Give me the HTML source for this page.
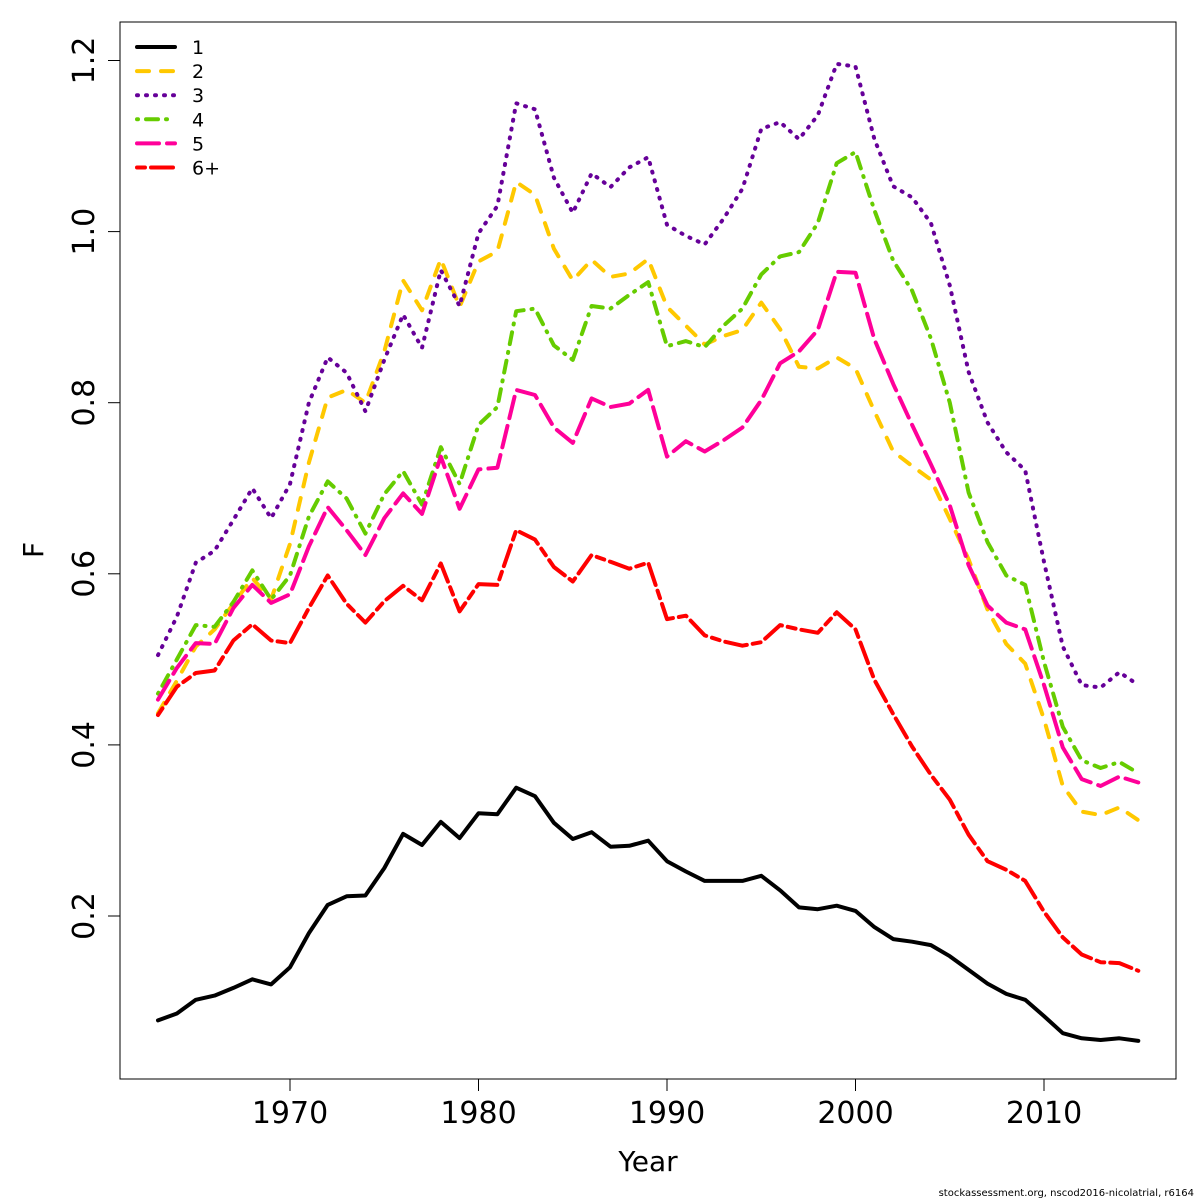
<!DOCTYPE html>
<html><head><meta charset="utf-8"><style>
html,body{margin:0;padding:0;background:#fff}
svg{display:block;font-family:"DejaVu Sans","Liberation Sans",sans-serif}
</style></head><body>
<svg id="chart" width="1200" height="1200" viewBox="0 0 1200 1200" xmlns="http://www.w3.org/2000/svg">
<rect x="0" y="0" width="1200" height="1200" fill="#fff"/>
<rect x="120" y="22" width="1056" height="1057" fill="none" stroke="#000" stroke-width="1"/>
<g id="marks"></g>
<g id="axes"></g>
<text x="648" y="1171" font-size="28" text-anchor="middle">Year</text>
<text x="0" y="0" font-size="28" text-anchor="middle" transform="translate(43,550) rotate(-90)">F</text>
<text x="1194" y="1196" font-size="10" text-anchor="end">stockassessment.org, nscod2016-nicolatrial, r6164</text>
<g id="legend"></g>
</svg>
<script>
const years = [];
for (let y = 1963; y <= 2015; y++) years.push(y);
const xTicks = [1970, 1980, 1990, 2000, 2010];
const yTicks = [0.2, 0.4, 0.6, 0.8, 1.0, 1.2];
const yTickLabels = ["0.2", "0.4", "0.6", "0.8", "1.0", "1.2"];
const seriesNames = ["1", "2", "3", "4", "5", "6+"];
const age1 = [0.078,0.086,0.102,0.107,0.116,0.126,0.12,0.14,0.18,0.213,0.223,0.224,0.256,0.296,0.283,0.31,0.291,0.32,0.319,0.35,0.34,0.309,0.29,0.298,0.281,0.282,0.288,0.264,0.252,0.241,0.241,0.241,0.247,0.23,0.21,0.208,0.212,0.206,0.187,0.173,0.17,0.166,0.153,0.137,0.121,0.109,0.102,0.083,0.063,0.057,0.055,0.057,0.054];
const age2 = [0.437,0.475,0.515,0.535,0.565,0.595,0.57,0.635,0.73,0.806,0.815,0.8,0.86,0.943,0.908,0.968,0.912,0.965,0.977,1.058,1.043,0.98,0.943,0.967,0.947,0.951,0.968,0.912,0.89,0.868,0.878,0.885,0.917,0.886,0.842,0.84,0.853,0.84,0.79,0.743,0.726,0.71,0.664,0.617,0.558,0.518,0.495,0.43,0.352,0.322,0.318,0.327,0.312];
const age3 = [0.505,0.55,0.613,0.627,0.663,0.7,0.665,0.705,0.8,0.853,0.835,0.79,0.85,0.903,0.864,0.955,0.913,0.998,1.03,1.15,1.143,1.063,1.022,1.068,1.052,1.075,1.087,1.008,0.995,0.985,1.015,1.05,1.12,1.128,1.108,1.136,1.196,1.193,1.108,1.053,1.04,1.01,0.937,0.836,0.777,0.742,0.721,0.614,0.515,0.47,0.467,0.485,0.47];
const age4 = [0.46,0.5,0.54,0.538,0.567,0.604,0.57,0.598,0.667,0.708,0.688,0.647,0.693,0.72,0.681,0.748,0.705,0.774,0.795,0.907,0.91,0.867,0.85,0.913,0.91,0.926,0.941,0.866,0.872,0.865,0.89,0.91,0.95,0.971,0.976,1.01,1.08,1.093,1.025,0.966,0.931,0.875,0.8,0.695,0.637,0.598,0.587,0.497,0.421,0.382,0.373,0.38,0.367];
const age5 = [0.453,0.49,0.519,0.518,0.56,0.587,0.566,0.576,0.632,0.678,0.651,0.622,0.665,0.694,0.67,0.737,0.676,0.722,0.724,0.815,0.809,0.771,0.753,0.805,0.795,0.799,0.815,0.737,0.755,0.743,0.756,0.771,0.803,0.846,0.86,0.885,0.953,0.952,0.874,0.822,0.774,0.728,0.68,0.61,0.563,0.543,0.535,0.47,0.397,0.36,0.352,0.363,0.356];
const age6 = [0.435,0.468,0.484,0.487,0.522,0.541,0.522,0.519,0.56,0.598,0.565,0.543,0.568,0.586,0.569,0.612,0.556,0.588,0.587,0.651,0.64,0.608,0.591,0.622,0.614,0.606,0.613,0.547,0.551,0.528,0.521,0.516,0.52,0.54,0.535,0.531,0.555,0.535,0.476,0.436,0.398,0.365,0.336,0.295,0.264,0.254,0.241,0.205,0.175,0.155,0.146,0.145,0.136];

const seriesData = [age1, age2, age3, age4, age5, age6];
const colors = ["#000000", "#FFC800", "#660099", "#66CC00", "#FF0099", "#FF0000"];
const dashes = ["", "12 12", "1 8", "1 8 12 8", "22 8", "8 6 22 6"];
const slugs = ["age-1", "age-2", "age-3", "age-4", "age-5", "age-6plus"];

function xScale(yr) { return 290 + (yr - 1970) * 18.85; }
function yScale(v) { return 916 - (v - 0.2) * 855.5; }

const NS = "http://www.w3.org/2000/svg";
const marks = document.getElementById("marks");
const axes = document.getElementById("axes");
const legend = document.getElementById("legend");

seriesData.forEach((vals, i) => {
  const p = document.createElementNS(NS, "polyline");
  p.setAttribute("points", vals.map((v, j) => xScale(years[j]).toFixed(1) + "," + yScale(v).toFixed(1)).join(" "));
  p.setAttribute("fill", "none");
  p.setAttribute("stroke", colors[i]);
  p.setAttribute("stroke-width", "4");
  p.setAttribute("stroke-linecap", "round");
  p.setAttribute("stroke-linejoin", "round");
  if (dashes[i]) p.setAttribute("stroke-dasharray", dashes[i]);
  
  
  marks.appendChild(p);
});

xTicks.forEach(t => {
  const x = xScale(t);
  const l = document.createElementNS(NS, "line");
  l.setAttribute("x1", x); l.setAttribute("x2", x);
  l.setAttribute("y1", 1079); l.setAttribute("y2", 1091);
  l.setAttribute("stroke", "#000");
  
  
  axes.appendChild(l);
  const tx = document.createElementNS(NS, "text");
  tx.setAttribute("x", x); tx.setAttribute("y", 1123);
  tx.setAttribute("font-size", "30");
  tx.setAttribute("text-anchor", "middle");
  tx.textContent = t;
  
  
  axes.appendChild(tx);
});
const xl = document.createElementNS(NS, "line");
xl.setAttribute("x1", xScale(xTicks[0])); xl.setAttribute("x2", xScale(xTicks[xTicks.length - 1]));
xl.setAttribute("y1", 1079); xl.setAttribute("y2", 1079); xl.setAttribute("stroke", "#000");


axes.appendChild(xl);

yTicks.forEach((t, i) => {
  const y = yScale(t);
  const l = document.createElementNS(NS, "line");
  l.setAttribute("x1", 108); l.setAttribute("x2", 120);
  l.setAttribute("y1", y); l.setAttribute("y2", y);
  l.setAttribute("stroke", "#000");
  
  
  axes.appendChild(l);
  const tx = document.createElementNS(NS, "text");
  tx.setAttribute("font-size", "30");
  tx.setAttribute("text-anchor", "middle");
  tx.setAttribute("transform", "translate(94," + y + ") rotate(-90)");
  tx.textContent = yTickLabels[i];
  
  
  axes.appendChild(tx);
});

seriesNames.forEach((name, i) => {
  const y = 47 + i * 24.1;
  const g = document.createElementNS(NS, "g");
  
  
  const l = document.createElementNS(NS, "line");
  l.setAttribute("x1", 137); l.setAttribute("x2", 175);
  l.setAttribute("y1", y); l.setAttribute("y2", y);
  l.setAttribute("stroke", colors[i]);
  l.setAttribute("stroke-width", "4");
  l.setAttribute("stroke-linecap", "round");
  if (dashes[i]) l.setAttribute("stroke-dasharray", dashes[i]);
  
  
  g.appendChild(l);
  const tx = document.createElementNS(NS, "text");
  tx.setAttribute("x", 192); tx.setAttribute("y", y + 7);
  tx.setAttribute("font-size", "19");
  tx.textContent = name;
  
  
  g.appendChild(tx);
  legend.appendChild(g);
});
</script>
</body></html>
